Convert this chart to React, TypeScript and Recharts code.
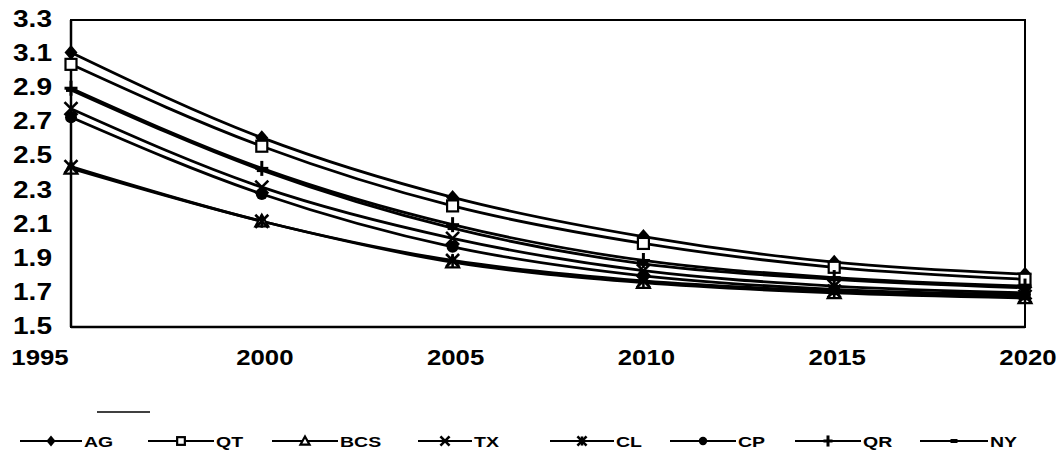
import React from 'react';
import { LineChart, Line, XAxis, YAxis, ReferenceArea } from 'recharts';

const years = ['1995', '2000', '2005', '2010', '2015', '2020'];
const yTicks = [1.5, 1.7, 1.9, 2.1, 2.3, 2.5, 2.7, 2.9, 3.1, 3.3];

const AG = [3.11, 2.61, 2.26, 2.03, 1.88, 1.81];
const QT = [3.04, 2.56, 2.21, 1.99, 1.85, 1.78];
const BCS = [2.43, 2.12, 1.88, 1.76, 1.70, 1.67];
const TX = [2.78, 2.32, 2.02, 1.83, 1.74, 1.70];
const CL = [2.44, 2.12, 1.89, 1.77, 1.71, 1.68];
const CP = [2.73, 2.28, 1.97, 1.80, 1.72, 1.69];
const QR = [2.90, 2.43, 2.10, 1.89, 1.79, 1.74];
const NY = [2.89, 2.42, 2.08, 1.87, 1.78, 1.73];

const seriesNames = ['AG', 'QT', 'BCS', 'TX', 'CL', 'CP', 'QR', 'NY'];
const seriesValues = [AG, QT, BCS, TX, CL, CP, QR, NY];
const seriesShapes = ['diamond', 'square', 'triangle', 'x', 'asterisk', 'circle', 'plus', 'dash'];

const data = years.map((year, i) => {
  const row: Record<string, string | number> = { year };
  seriesNames.forEach((n, k) => {
    row[n] = seriesValues[k][i];
  });
  return row;
});

const FONT = '"Liberation Sans", Arial, sans-serif';

function Marker({ shape, cx, cy, s = 1 }: { shape: string; cx: number; cy: number; s?: number }) {
  const k = 6.5 * s;
  switch (shape) {
    case 'diamond':
      return <polygon points={`${cx},${cy - k - 1} ${cx + k},${cy} ${cx},${cy + k + 1} ${cx - k},${cy}`} fill="#000" />;
    case 'square':
      return <rect x={cx - 5.5 * s} y={cy - 5.5 * s} width={11 * s} height={11 * s} fill="#fff" stroke="#000" strokeWidth={2.2} />;
    case 'triangle':
      return <polygon points={`${cx},${cy - k} ${cx + k},${cy + k * 0.8} ${cx - k},${cy + k * 0.8}`} fill="#fff" stroke="#000" strokeWidth={2.2} />;
    case 'x':
      return (
        <g stroke="#000" strokeWidth={2.6}>
          <line x1={cx - k} y1={cy - k} x2={cx + k} y2={cy + k} />
          <line x1={cx - k} y1={cy + k} x2={cx + k} y2={cy - k} />
        </g>
      );
    case 'asterisk':
      return (
        <g stroke="#000" strokeWidth={2.6}>
          <line x1={cx - k} y1={cy - k} x2={cx + k} y2={cy + k} />
          <line x1={cx - k} y1={cy + k} x2={cx + k} y2={cy - k} />
          <line x1={cx} y1={cy - k} x2={cx} y2={cy + k} />
        </g>
      );
    case 'circle':
      return <circle cx={cx} cy={cy} r={6 * s} fill="#000" />;
    case 'plus':
      return (
        <g stroke="#000" strokeWidth={3}>
          <line x1={cx} y1={cy - k - 1} x2={cx} y2={cy + k + 1} />
          <line x1={cx - k} y1={cy} x2={cx + k} y2={cy} />
        </g>
      );
    case 'dash':
      return <line x1={cx - 5 * s} y1={cy} x2={cx + 5 * s} y2={cy} stroke="#000" strokeWidth={4} />;
    default:
      return null;
  }
}

const makeDot = (shape: string) => (props: any) => {
  const { cx, cy, index } = props;
  if (cx == null || cy == null) return <g key={index} />;
  return (
    <g key={`${shape}-${index}`}>
      <Marker shape={shape} cx={cx} cy={cy} />
    </g>
  );
};

const YTick = (props: any) => {
  const { x, y, payload } = props;
  return (
    <g transform={`translate(${x},${y})`}>
      <text transform="scale(1.22,1)" textAnchor="end" y={7} fontSize={23} fontWeight="bold" fontFamily={FONT} fill="#000">
        {Number(payload.value).toFixed(1)}
      </text>
    </g>
  );
};

const XTick = (props: any) => {
  const { x, y, payload, index } = props;
  const cx = index === 0 ? x - 31 : x + 3;
  return (
    <g transform={`translate(${cx},${y})`}>
      <text transform="scale(1.12,1)" textAnchor="middle" y={38} fontSize={23} fontWeight="bold" fontFamily={FONT} fill="#000">
        {payload.value}
      </text>
    </g>
  );
};

const legendX = [20, 148, 272, 418, 550, 670, 795, 920];
const legendLineLen = [62, 66, 66, 54, 64, 66, 66, 68];

function LegendOverlay() {
  return (
    <svg width={1064} height={454} style={{ position: 'absolute', left: 0, top: 0, pointerEvents: 'none' }}>
      <line x1={97} y1={412} x2={150} y2={412} stroke="#000" strokeWidth={1.5} />
      {seriesNames.map((name, i) => {
        const x0 = legendX[i];
        const len = legendLineLen[i];
        return (
          <g key={name}>
            <line x1={x0} y1={441} x2={x0 + len} y2={441} stroke="#000" strokeWidth={2} />
            <Marker shape={seriesShapes[i]} cx={x0 + len / 2} cy={441} s={0.7} />
            <g transform={`translate(${x0 + len + 2},447)`}>
              <text transform="scale(1.3,1)" fontSize={15} fontWeight="bold" fontFamily={FONT} fill="#000">
                {name}
              </text>
            </g>
          </g>
        );
      })}
    </svg>
  );
}

export default function App() {
  return (
    <div style={{ position: 'relative', width: 1064, height: 454, background: '#fff' }}>
      <style>{`body{margin:0;background:#fff}`}</style>
      <LineChart width={1064} height={454} data={data} margin={{ top: 20, right: 39, bottom: 87, left: 10 }}>
        <XAxis
          dataKey="year"
          padding={{ left: 0, right: 0 }}
          height={40}
          tickSize={0}
          tickMargin={0}
          axisLine={{ stroke: '#000', strokeWidth: 2.5 }}
          tickLine={false}
          tick={<XTick />}
          interval={0}
        />
        <YAxis
          domain={[1.5, 3.3]}
          ticks={yTicks}
          width={61}
          tickSize={0}
          tickMargin={19}
          axisLine={{ stroke: '#000', strokeWidth: 2.5 }}
          tickLine={false}
          tick={<YTick />}
          interval={0}
        />
        <ReferenceArea x1="1995" x2="2020" y1={1.5} y2={3.3} fill="none" stroke="#000" strokeWidth={2} ifOverflow="visible" />
        {seriesNames.map((name, i) => (
          <Line
            key={name}
            type="monotone"
            dataKey={name}
            stroke="#000"
            strokeWidth={2.8}
            dot={makeDot(seriesShapes[i])}
            activeDot={false}
            isAnimationActive={false}
          />
        ))}
      </LineChart>
      <LegendOverlay />
    </div>
  );
}
